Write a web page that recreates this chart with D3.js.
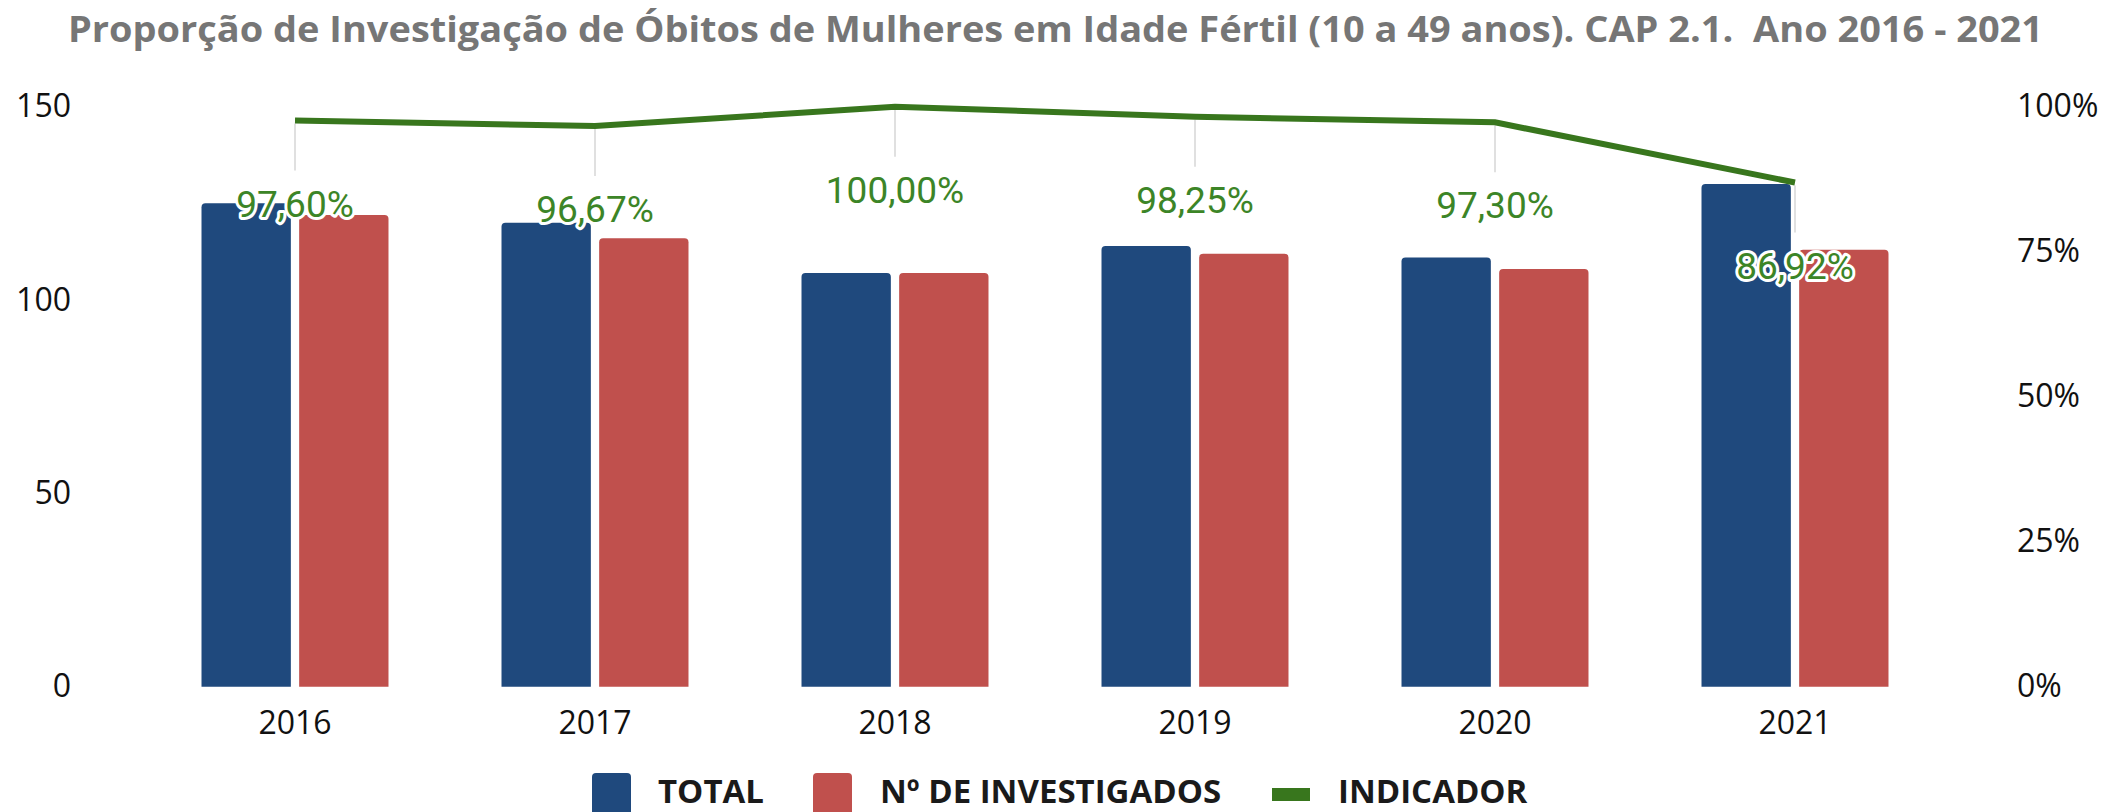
<!DOCTYPE html>
<html>
<head>
<meta charset="utf-8">
<script src="https://cdn.jsdelivr.net/npm/d3@7"></script>
<style>
  body { margin: 0; background: #fff; }
  text { font-family: "Open Sans", sans-serif; }
</style>
</head>
<body>
<div id="chart"></div>
<script>
var W = 2121, H = 812;

var anos = ["2016", "2017", "2018", "2019", "2020", "2021"];
var total = [125, 120, 107, 114, 111, 130];
var investigados = [122, 116, 107, 112, 108, 113];
var indicador = [97.60, 96.67, 100.00, 98.25, 97.30, 86.92];
var ticksEsq = [0, 50, 100, 150];
var ticksDir = [0, 0.25, 0.5, 0.75, 1];
var series = ["TOTAL", "Nº DE INVESTIGADOS"];
var cores = {"TOTAL": "#1f497d", "Nº DE INVESTIGADOS": "#c0504d", "INDICADOR": "#38761d"};

var svg = d3.select("#chart")
  .append("svg")
    .attr("width", W)
    .attr("height", H);

// titulo
svg.append("text")
  .attr("x", 68)
  .attr("y", 42)
  .attr("textLength", 1975)
  .attr("lengthAdjust", "spacingAndGlyphs")
  .style("white-space", "pre")
  .style("font-size", "35px")
  .style("font-weight", 700)
  .style("fill", "#767676")
  .text("Proporção de Investigação de Óbitos de Mulheres em Idade Fértil (10 a 49 anos). CAP 2.1.  Ano 2016 - 2021");

var x0 = d3.scaleBand()
  .domain(anos)
  .range([145, 1945])
  .paddingInner(0.3767)
  .paddingOuter(0.3767 / 2);

var x1 = d3.scaleBand()
  .domain(series)
  .range([0, x0.bandwidth()])
  .paddingInner(0.085);

var y = d3.scaleLinear().domain([0, 150]).range([686.7, 106.7]);
var yR = d3.scaleLinear().domain([0, 1]).range([686.7, 106.7]);

// eixos
var eixoEsq = svg.append("g")
  .attr("transform", "translate(71,0)")
  .call(d3.axisLeft(y).tickValues(ticksEsq).tickSize(0).tickPadding(0));
var eixoDir = svg.append("g")
  .attr("transform", "translate(2017,0)")
  .call(d3.axisRight(yR).tickValues(ticksDir).tickSize(0).tickPadding(0)
    .tickFormat(function(d) { return (d * 100) + "%"; }));
var eixoX = svg.append("g")
  .attr("transform", "translate(0,686.7)")
  .call(d3.axisBottom(x0).tickSize(0).tickPadding(25));

[eixoEsq, eixoDir, eixoX].forEach(function(g) {
  g.select(".domain").remove();
  g.selectAll("text")
    .style("font-family", "'Open Sans', sans-serif")
    .style("font-size", "32px")
    .style("fill", "#111");
});

// barras com cantos superiores arredondados
function barra(x, yTop, w, yBase, r) {
  return "M" + x + "," + yBase +
    " L" + x + "," + (yTop + r) +
    " Q" + x + "," + yTop + " " + (x + r) + "," + yTop +
    " L" + (x + w - r) + "," + yTop +
    " Q" + (x + w) + "," + yTop + " " + (x + w) + "," + (yTop + r) +
    " L" + (x + w) + "," + yBase + " Z";
}

var dados = anos.map(function(a, i) {
  return {ano: a, valores: [
    {serie: "TOTAL", v: total[i]},
    {serie: "Nº DE INVESTIGADOS", v: investigados[i]}
  ]};
});

svg.append("g").selectAll("g")
  .data(dados)
  .join("g")
    .attr("transform", function(d) { return "translate(" + x0(d.ano) + ",0)"; })
  .selectAll("path")
  .data(function(d) { return d.valores; })
  .join("path")
    .attr("d", function(d) { return barra(x1(d.serie), y(d.v), x1.bandwidth(), y(0), 4); })
    .attr("fill", function(d) { return cores[d.serie]; });

// linha do indicador
var pontos = anos.map(function(a, i) {
  return {x: x0(a) + x0.bandwidth() / 2, y: yR(indicador[i] / 100), p: indicador[i]};
});

svg.append("g").selectAll("line")
  .data(pontos)
  .join("line")
    .attr("x1", function(d) { return d.x; })
    .attr("x2", function(d) { return d.x; })
    .attr("y1", function(d) { return d.y + 3; })
    .attr("y2", function(d) { return d.y + 50; })
    .attr("stroke", "#e0e0e0")
    .attr("stroke-width", 2);

svg.append("path")
  .datum(pontos)
  .attr("fill", "none")
  .attr("stroke", cores["INDICADOR"])
  .attr("stroke-width", 6)
  .attr("d", d3.line()
    .x(function(d) { return d.x; })
    .y(function(d) { return d.y; }));

svg.append("g").selectAll("text")
  .data(pontos)
  .join("text")
    .attr("x", function(d) { return d.x; })
    .attr("y", function(d) { return d.y + 96; })
    .attr("text-anchor", "middle")
    .style("font-family", "Roboto, sans-serif")
    .style("font-size", "37px")
    .style("fill", "#3c8527")
    .style("stroke", "#fff")
    .style("stroke-width", 6)
    .style("stroke-linejoin", "round")
    .style("paint-order", "stroke")
    .text(function(d) { return d.p.toFixed(2).replace(".", ",") + "%"; });

// legenda
var leg = svg.append("g").style("font-size", "33px").style("font-weight", 700);
leg.append("rect").attr("x", 592).attr("y", 773).attr("width", 39).attr("height", 50).attr("rx", 4)
  .attr("fill", cores["TOTAL"]);
leg.append("text").attr("x", 658).attr("y", 803).style("fill", "#1a1a1a").text("TOTAL");
leg.append("rect").attr("x", 813).attr("y", 773).attr("width", 39).attr("height", 50).attr("rx", 4)
  .attr("fill", cores["Nº DE INVESTIGADOS"]);
leg.append("text").attr("x", 880).attr("y", 803).style("fill", "#1a1a1a").text("Nº DE INVESTIGADOS");
leg.append("rect").attr("x", 1272).attr("y", 788).attr("width", 38).attr("height", 13)
  .attr("fill", cores["INDICADOR"]);
leg.append("text").attr("x", 1338).attr("y", 803).style("fill", "#1a1a1a").text("INDICADOR");
</script>
</body>
</html>
